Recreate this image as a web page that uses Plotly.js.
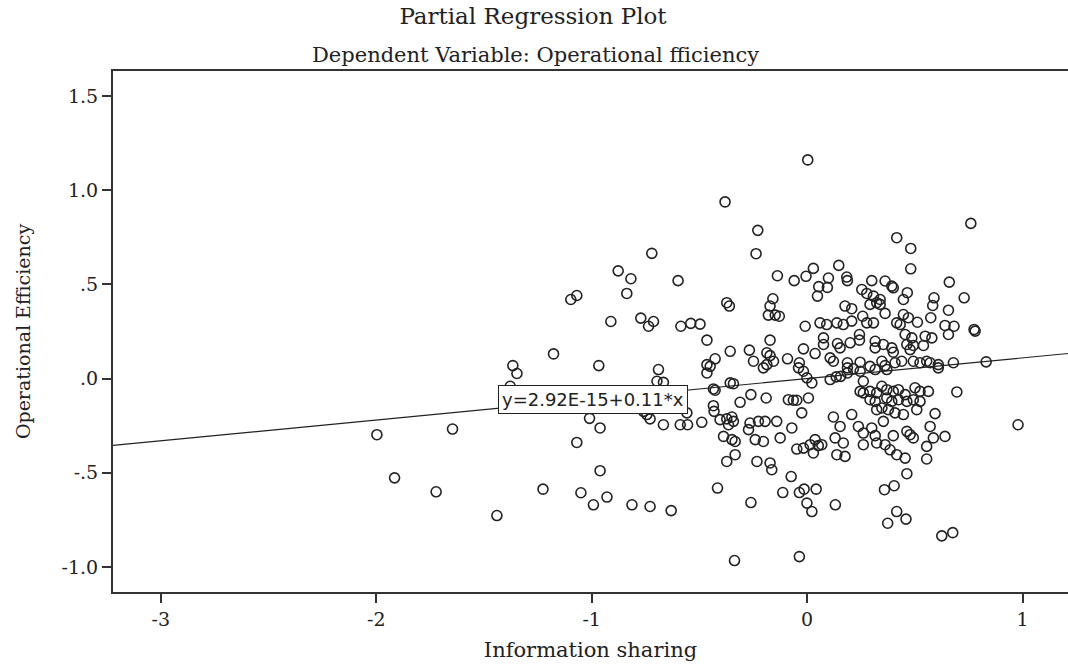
<!DOCTYPE html>
<html>
<head>
<meta charset="utf-8">
<script src="https://cdn.plot.ly/plotly-3.0.1.min.js"></script>
<style>html,body{margin:0;padding:0;background:#fff;}#chart{width:1068px;height:668px;}</style>
</head>
<body>
<div id="chart"></div>
<script>
// Information sharing (partial residuals, x)
const infoSharing = [
-1.997,-1.915,-0.877,-1.097,-1.069,-0.911,-1.177,-1.366,-1.347,-0.967,
-1.378,-1.010,-0.961,-1.646,-1.069,-1.722,-1.226,-0.961,-1.050,-0.992,
-0.929,-1.440,-0.721,-0.818,-0.599,-0.837,-0.772,-0.713,-0.736,-0.586,
-0.540,-0.497,0.003,-0.381,-0.229,-0.237,-0.138,-0.060,-0.005,0.029,
0.147,0.099,0.054,0.094,0.048,0.184,0.187,0.300,0.254,0.277,
0.308,0.323,-0.159,-0.172,-0.180,-0.148,-0.129,-0.373,-0.361,-0.009,
0.176,0.207,0.258,0.292,0.060,0.091,0.138,0.168,0.207,0.277,
0.308,0.760,0.416,0.481,0.481,0.660,0.729,0.362,0.393,0.400,
0.465,0.447,0.339,0.339,0.589,0.583,0.656,0.362,0.447,0.470,
0.574,0.416,0.432,0.512,0.640,0.682,0.775,-0.465,-0.357,-0.268,
-0.427,-0.465,-0.450,-0.465,-0.249,-0.690,-0.697,-0.667,-0.435,-0.427,
-0.357,-0.342,-0.261,-0.311,-0.435,-0.432,-0.404,-0.373,-0.349,-0.342,
-0.365,-0.489,-0.558,-0.744,-0.729,-0.667,-0.589,-0.555,-0.265,-0.272,
-0.226,-0.388,-0.349,-0.334,-0.241,-0.334,-0.373,-0.233,-0.760,-0.172,
0.076,0.076,0.141,0.153,0.200,0.243,0.243,0.316,0.316,-0.017,
-0.187,-0.172,-0.156,-0.187,-0.203,-0.091,0.037,0.107,0.122,-0.036,
-0.040,-0.017,0.187,0.187,0.215,0.246,-0.001,0.022,0.107,0.135,
0.156,0.187,0.246,0.292,0.316,0.261,0.246,0.261,0.292,0.323,
-0.190,-0.087,-0.064,-0.048,0.006,0.292,0.316,0.323,-0.025,0.122,
0.207,-0.195,-0.141,-0.071,0.153,0.238,0.261,0.300,0.316,0.323,
-0.203,-0.125,0.037,0.014,0.052,0.068,0.130,0.168,-0.048,-0.017,
0.029,0.138,0.176,0.261,-0.172,0.455,0.486,0.548,0.579,0.656,
0.780,0.354,0.393,0.400,0.463,0.478,0.493,0.540,0.347,0.362,
0.370,0.408,0.439,0.493,0.524,0.555,0.571,0.609,0.609,0.679,
0.831,0.695,0.347,0.370,0.400,0.424,0.455,0.501,0.524,0.563,
0.370,0.393,0.424,0.463,0.493,0.524,0.347,0.377,0.408,0.447,
0.509,0.594,0.354,0.571,0.463,0.478,0.493,0.400,0.586,0.640,
0.555,0.362,0.385,0.416,0.455,0.555,-0.813,-0.729,-0.631,-0.416,
-0.261,-0.164,-0.074,-0.113,-0.036,-0.014,0.042,-0.001,0.022,0.131,
-0.337,-0.036,0.359,0.404,0.463,0.416,0.459,0.374,0.625,0.676,
0.979
];
// Operational Efficiency (partial residuals, y)
const operationalEfficiency = [
-0.298,-0.527,0.572,0.420,0.441,0.303,0.131,0.069,0.027,0.069,
-0.041,-0.211,-0.262,-0.268,-0.339,-0.601,-0.587,-0.489,-0.606,-0.670,
-0.629,-0.727,0.665,0.530,0.520,0.452,0.321,0.303,0.278,0.278,
0.293,0.289,1.161,0.938,0.787,0.663,0.546,0.520,0.543,0.585,
0.601,0.534,0.488,0.484,0.438,0.539,0.520,0.520,0.473,0.452,
0.438,0.403,0.424,0.385,0.337,0.337,0.331,0.403,0.385,0.278,
0.385,0.371,0.331,0.394,0.296,0.287,0.296,0.287,0.305,0.296,
0.296,0.824,0.748,0.691,0.583,0.512,0.429,0.518,0.491,0.482,
0.456,0.420,0.420,0.394,0.429,0.388,0.363,0.346,0.340,0.323,
0.323,0.296,0.287,0.299,0.282,0.278,0.261,0.204,0.145,0.151,
0.105,0.074,0.065,0.030,0.092,0.048,-0.014,-0.020,-0.055,-0.062,
-0.023,-0.027,-0.085,-0.126,-0.144,-0.174,-0.218,-0.214,-0.204,-0.227,
-0.245,-0.232,-0.182,-0.191,-0.214,-0.245,-0.245,-0.245,-0.236,-0.271,
-0.227,-0.307,-0.324,-0.334,-0.324,-0.404,-0.440,-0.440,-0.174,0.204,
0.216,0.181,0.186,0.163,0.190,0.234,0.204,0.198,0.163,0.158,
0.137,0.122,0.092,0.074,0.057,0.105,0.133,0.110,0.092,0.084,
0.057,0.039,0.084,0.057,0.052,0.087,0.004,-0.023,-0.005,0.009,
0.012,0.030,0.039,0.065,0.048,-0.014,-0.068,-0.076,-0.068,-0.076,
-0.103,-0.112,-0.115,-0.115,-0.103,-0.112,-0.121,-0.165,-0.182,-0.204,
-0.191,-0.227,-0.227,-0.262,-0.254,-0.254,-0.289,-0.262,-0.303,-0.342,
-0.334,-0.315,-0.324,-0.351,-0.356,-0.351,-0.315,-0.342,-0.374,-0.369,
-0.395,-0.404,-0.413,-0.351,-0.448,0.234,0.216,0.225,0.216,0.234,
0.252,0.181,0.163,0.140,0.181,0.154,0.176,0.176,0.092,0.069,
0.048,0.084,0.092,0.092,0.084,0.092,0.084,0.074,0.057,0.084,
0.089,-0.071,-0.041,-0.059,-0.068,-0.059,-0.085,-0.049,-0.068,-0.068,
-0.103,-0.121,-0.112,-0.121,-0.112,-0.121,-0.156,-0.165,-0.182,-0.191,
-0.165,-0.186,-0.227,-0.254,-0.280,-0.298,-0.315,-0.303,-0.315,-0.307,
-0.360,-0.351,-0.378,-0.404,-0.422,-0.427,-0.670,-0.679,-0.701,-0.581,
-0.658,-0.484,-0.520,-0.605,-0.605,-0.587,-0.587,-0.661,-0.706,-0.670,
-0.966,-0.945,-0.590,-0.569,-0.505,-0.706,-0.746,-0.768,-0.835,-0.818,
-0.245
];
// Fit line: y = 2.92E-15 + 0.11*x
const fitIntercept = 2.92e-15;
const fitSlope = 0.11;
const fitX = [-3.222, 1.211];
const fitY = fitX.map(v => fitIntercept + fitSlope * v);
const fitLabel = 'y=2.92E-15+0.11*x';

const xTickVals = [-3, -2, -1, 0, 1];
const xTickText = ['-3', '-2', '-1', '0', '1'];
const yTickVals = [-1.0, -0.5, 0.0, 0.5, 1.0, 1.5];
const yTickText = ['-1.0', '-.5', '.0', '.5', '1.0', '1.5'];

const serif = 'DejaVu Serif, Liberation Serif, serif';
const ink = '#222';

const traces = [
  {
    x: fitX, y: fitY, type: 'scatter', mode: 'lines',
    line: {color: ink, width: 1.2}, hoverinfo: 'skip', showlegend: false
  },
  {
    x: infoSharing, y: operationalEfficiency, type: 'scatter', mode: 'markers',
    marker: {symbol: 'circle-open', size: 10, color: ink, line: {width: 1.6, color: ink}},
    showlegend: false
  }
];

const layout = {
  width: 1068, height: 668,
  paper_bgcolor: '#fff', plot_bgcolor: '#fff',
  margin: {l: 113, r: 0, t: 71, b: 76},
  showlegend: false,
  title: {
    text: 'Partial Regression Plot',
    font: {family: serif, size: 23, color: ink},
    x: 533 / 1068, xref: 'container', xanchor: 'center',
    y: 1 - 16 / 668, yref: 'container', yanchor: 'middle'
  },
  annotations: [
    {
      text: 'Dependent Variable: Operational fficiency',
      xref: 'paper', yref: 'paper', x: (535 - 113) / 955, y: 1 + (71 - 55) / (668 - 71 - 76),
      xanchor: 'center', yanchor: 'middle', showarrow: false,
      font: {family: serif, size: 21, color: ink}
    },
    {
      text: fitLabel, x: -0.995, y: -0.112, xref: 'x', yref: 'y',
      showarrow: false, xanchor: 'center', yanchor: 'middle',
      bgcolor: '#fff', bordercolor: ink, borderwidth: 1, borderpad: 3,
      font: {family: 'DejaVu Sans, Liberation Sans, sans-serif', size: 18, color: ink}
    }
  ],
  xaxis: {
    range: [-3.222, 1.211],
    tickmode: 'array', tickvals: xTickVals, ticktext: xTickText,
    ticks: 'outside', ticklen: 9, tickwidth: 2, tickcolor: '#333',
    showline: true, linewidth: 2, linecolor: '#333', mirror: true,
    showgrid: false, zeroline: false,
    tickfont: {family: serif, size: 19, color: ink},
    title: {text: 'Information sharing', font: {family: serif, size: 21, color: ink}, standoff: 14}
  },
  yaxis: {
    range: [-1.133, 1.633],
    tickmode: 'array', tickvals: yTickVals, ticktext: yTickText,
    ticks: 'outside', ticklen: 9, tickwidth: 2, tickcolor: '#333',
    showline: true, linewidth: 2, linecolor: '#333', mirror: false,
    showgrid: false, zeroline: false,
    tickfont: {family: serif, size: 19, color: ink},
    title: {text: 'Operational Efficiency', font: {family: serif, size: 19, color: ink}, standoff: 26}
  }
};

Plotly.newPlot('chart', traces, layout, {displayModeBar: false, staticPlot: true});
</script>
</body>
</html>
